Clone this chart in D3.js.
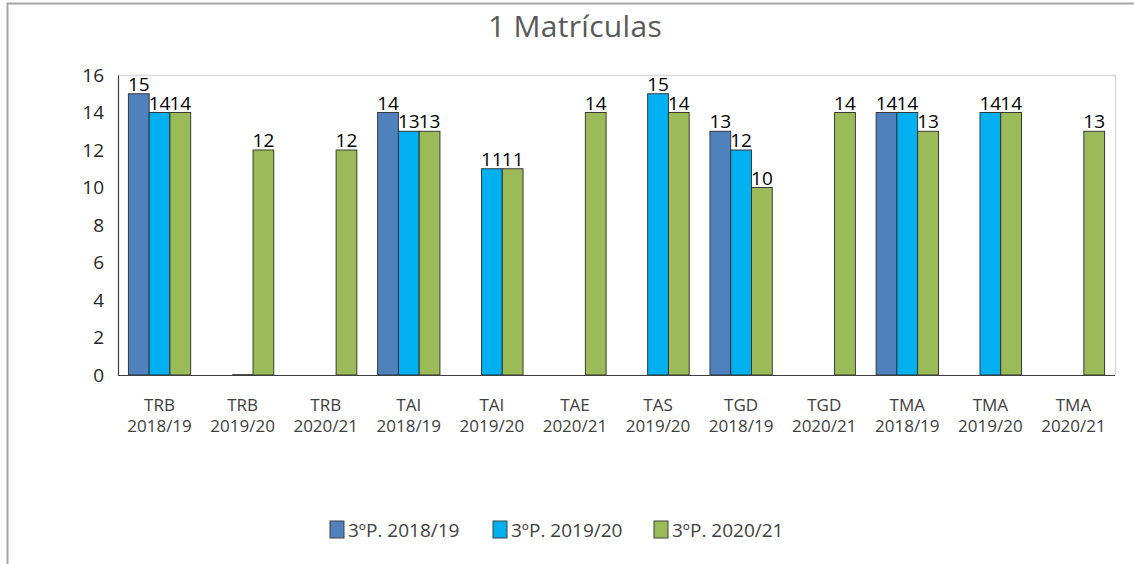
<!DOCTYPE html>
<html>
<head>
<meta charset="utf-8">
<script src="https://cdn.jsdelivr.net/npm/d3@7"></script>
<style>
  body { margin: 0; background: #fff; }
  svg { display: block; font-family: 'Open Sans', 'Noto Sans', sans-serif; }
</style>
</head>
<body>
<div id="chart"></div>
<script>
// data
const categories = [
  ['TRB', '2018/19'], ['TRB', '2019/20'], ['TRB', '2020/21'],
  ['TAI', '2018/19'], ['TAI', '2019/20'], ['TAE', '2020/21'],
  ['TAS', '2019/20'], ['TGD', '2018/19'], ['TGD', '2020/21'],
  ['TMA', '2018/19'], ['TMA', '2019/20'], ['TMA', '2020/21'],
];
const seriesNames = ['3ºP. 2018/19', '3ºP. 2019/20', '3ºP. 2020/21'];
const seriesColors = ['#4F81BD', '#00B0F0', '#9BBB59'];
const p2018 = [15, null, null, 14, null, null, null, 13, null, 14, null, null];
const p2019 = [14, 0, null, 13, 11, null, 15, 12, null, 14, 14, null];
const p2020 = [14, 12, 12, 13, 11, 14, 14, 10, 14, 13, 14, 13];
const yTicks = [0, 2, 4, 6, 8, 10, 12, 14, 16];

const width = 1134;
const height = 564;
const plot = { left: 118, right: 1115, top: 75, bottom: 375 };

const svg = d3.select('#chart').append('svg')
  .attr('width', width)
  .attr('height', height);

// outer frame (top + left only visible)
svg.append('path')
  .attr('d', `M7.5,${height} L7.5,3.5 L${width},3.5`)
  .attr('fill', 'none')
  .attr('stroke', '#a6a6a6')
  .attr('stroke-width', 2);

// title
svg.append('text')
  .attr('x', 575)
  .attr('y', 37)
  .attr('text-anchor', 'middle')
  .attr('fill', '#595959')
  .attr('font-size', 30)
  .attr('letter-spacing', 0.3)
  .text('1 Matrículas');

/* scales */
const keys = categories.map((c) => c.join(' '));
const x0 = d3.scaleBand().domain(keys).range([plot.left, plot.right]);
const x1 = d3.scaleBand().domain(seriesNames).range([0, x0.bandwidth()]).paddingOuter(0.5);
const y = d3.scaleLinear().domain([0, 16]).range([plot.bottom, plot.top]);

// plot area border (top/right light grey)
svg.append('path')
  .attr('d', `M${plot.left},${plot.top + 0.5} L${plot.right + 0.5},${plot.top + 0.5} L${plot.right + 0.5},${plot.bottom}`)
  .attr('fill', 'none')
  .attr('stroke', '#d9d9d9')
  .attr('stroke-width', 1.5);

// y axis
const yAxis = svg.append('g')
  .attr('transform', `translate(${plot.left},0)`)
  .call(d3.axisLeft(y).tickValues(yTicks).tickSize(0).tickPadding(14));
yAxis.select('.domain').attr('stroke', '#404040').attr('stroke-width', 1.2);
yAxis.attr('font-size', 19).attr('font-family', "'Open Sans', sans-serif");
yAxis.selectAll('text').attr('fill', '#262626');

// bars
const seriesData = [p2018, p2019, p2020];
const groups = svg.append('g');
seriesData.forEach((vals, si) => {
  const rows = vals.map((v, i) => ({ v, key: keys[i] })).filter((d) => d.v !== null);
  groups.append('g')
    .selectAll('rect')
    .data(rows.filter((d) => d.v > 0))
    .enter()
    .append('rect')
    .attr('x', (d) => x0(d.key) + x1(seriesNames[si]))
    .attr('y', (d) => y(d.v))
    .attr('width', x1.bandwidth())
    .attr('height', (d) => y(0) - y(d.v))
    .attr('fill', seriesColors[si])
    .attr('stroke', '#2b2b2b')
    .attr('stroke-width', 0.9);

  // zero values show as a flat outline on the axis
  groups.append('g')
    .selectAll('line')
    .data(rows.filter((d) => d.v === 0))
    .enter()
    .append('line')
    .attr('x1', (d) => x0(d.key) + x1(seriesNames[si]))
    .attr('x2', (d) => x0(d.key) + x1(seriesNames[si]) + x1.bandwidth())
    .attr('y1', (d) => y(d.v))
    .attr('y2', (d) => y(d.v))
    .attr('stroke', '#111')
    .attr('stroke-width', 1.5);

  // value labels
  groups.append('g')
    .selectAll('text')
    .data(rows.filter((d) => d.v > 0))
    .enter()
    .append('text')
    .attr('x', (d) => x0(d.key) + x1(seriesNames[si]) + x1.bandwidth() / 2)
    .attr('y', (d) => y(d.v) - 3)
    .attr('text-anchor', 'middle')
    .attr('font-size', 19)
    .attr('fill', '#000')
    .text((d) => d.v);
});

// x axis
svg.append('line')
  .attr('x1', plot.left)
  .attr('x2', plot.right)
  .attr('y1', plot.bottom + 0.5)
  .attr('y2', plot.bottom + 0.5)
  .attr('stroke', '#404040')
  .attr('stroke-width', 1.2);

const xLabels = svg.append('g')
  .selectAll('text')
  .data(categories)
  .enter()
  .append('text')
  .attr('x', (d, i) => x0(keys[i]) + x0.bandwidth() / 2)
  .attr('y', 411)
  .attr('text-anchor', 'middle')
  .attr('font-size', 17)
  .attr('fill', '#404040');
xLabels.append('tspan').attr('x', (d, i) => x0(keys[i]) + x0.bandwidth() / 2).text((d) => d[0]);
xLabels.append('tspan').attr('x', (d, i) => x0(keys[i]) + x0.bandwidth() / 2).attr('dy', 21).text((d) => d[1]);

/* legend */
const legendX = [330, 493, 654];
const legend = svg.append('g');
seriesNames.forEach((name, i) => {
  legend.append('rect')
    .attr('x', legendX[i])
    .attr('y', 521)
    .attr('width', 14)
    .attr('height', 17)
    .attr('fill', seriesColors[i])
    .attr('stroke', '#404040')
    .attr('stroke-width', 1);
  legend.append('text')
    .attr('x', legendX[i] + 18)
    .attr('y', 537)
    .attr('font-size', 19)
    .attr('fill', '#404040')
    .text(name);
});
</script>
</body>
</html>
